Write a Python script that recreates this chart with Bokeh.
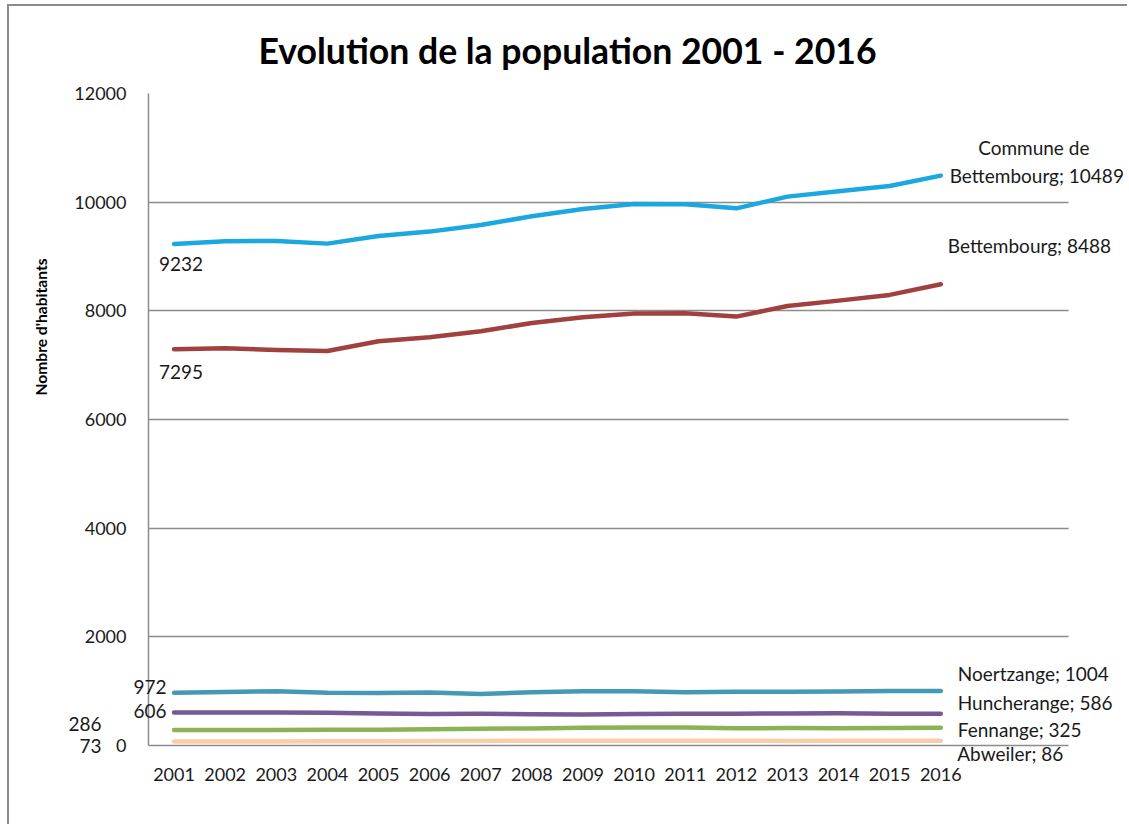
from bokeh.plotting import figure
from bokeh.models import (Range1d, FixedTicker, LabelSet, ColumnDataSource, Title,
                          BoxAnnotation)
from bokeh.core.properties import value
from bokeh.embed import file_html
from bokeh.resources import INLINE

try:
    from bokeh.models import HTMLLabelSet
except ImportError:
    HTMLLabelSet = None

# ---------------- data ----------------
years = list(range(2001, 2017))

commune = [9232, 9280, 9286, 9237, 9378, 9458, 9580, 9740, 9875, 9967, 9960, 9886, 10102, 10199, 10298, 10489]
bettembourg = [7295, 7311, 7281, 7262, 7440, 7513, 7623, 7777, 7881, 7949, 7955, 7894, 8090, 8188, 8293, 8488]
noertzange = [972, 985, 1000, 970, 965, 975, 950, 980, 1000, 1000, 980, 990, 990, 995, 1004, 1004]
huncherange = [606, 607, 608, 604, 590, 578, 585, 575, 570, 580, 585, 585, 590, 592, 585, 586]
fennange = [286, 285, 284, 288, 290, 300, 310, 315, 325, 330, 332, 318, 320, 318, 322, 325]
abweiler = [73, 74, 75, 78, 80, 82, 85, 87, 88, 88, 87, 86, 85, 86, 86, 86]

series_names = ["Commune de\nBettembourg", "Bettembourg", "Noertzange", "Huncherange", "Fennange", "Abweiler"]
series_values = [commune, bettembourg, noertzange, huncherange, fennange, abweiler]
series_colors = ["#1BA8E0", "#A0403F", "#4599B3", "#755A95", "#8DB254", "#F8CDAA"]

y_ticks = [0, 2000, 4000, 6000, 8000, 10000, 12000]
title_text = "Evolution de la population 2001 - 2016"
y_label = "Nombre d'habitants"

FONT = "Lato"
LABEL_SIZE = "19px"

# ---------------- layout (pixels) ----------------
W, H = 1120, 820                 # figure size (page offset 9, 6)
ML, MR, MT, MB = 137, 0, 87, 81  # borders around the frame
PX_YEAR = 51.22                  # horizontal pixels per category
frame_w = W - ML - MR
x0 = 2000.5
x1 = x0 + frame_w / PX_YEAR

p = figure(width=W, height=H, output_backend="svg", toolbar_location=None,
           x_range=Range1d(x0, x1), y_range=Range1d(0, 12000),
           min_border_left=ML, min_border_right=MR, min_border_top=MT, min_border_bottom=MB)
p.styles = {"margin-left": "7px", "margin-top": "4px",
            "border-left": "2px solid #8c8c8c", "border-top": "2px solid #8c8c8c"}

p.outline_line_color = None
p.background_fill_color = "white"
p.border_fill_color = "white"

p.xgrid.grid_line_color = None
p.ygrid.grid_line_color = "#8c8c8c"
p.ygrid.grid_line_width = 1.5
p.ygrid.ticker = FixedTicker(ticks=y_ticks)

# white mask so grid lines stop at the plot area (ends at 2018.5)
p.add_layout(BoxAnnotation(left=2018.5, fill_color="white", fill_alpha=1, line_color=None, level="underlay"))

p.yaxis.ticker = FixedTicker(ticks=y_ticks)
p.xaxis.ticker = FixedTicker(ticks=years)
p.xaxis.bounds = (2000.5, 2018.5)
for ax in (p.xaxis[0], p.yaxis[0]):
    ax.axis_line_color = "#8c8c8c"
    ax.axis_line_width = 1.5
    ax.major_tick_line_color = None
    ax.minor_tick_line_color = None
    ax.major_label_text_font = FONT
    ax.major_label_text_font_size = "18px"
    ax.major_label_text_color = "#1a1a1a"
p.xaxis.major_label_standoff = 16
p.yaxis.major_label_standoff = 16

# y axis title placed like the reference (left side, above centre)
p.add_layout(Title(text=y_label, align="left", offset=350, standoff=42, vertical_align="middle",
                   text_font=FONT, text_font_size="15.6px", text_font_style="bold",
                   text_color="#000000"), "left")

# main title
p.title.text = title_text
p.title.align = "left"
p.title.offset = 110
p.title.standoff = 42
p.title.vertical_align = "middle"
p.title.text_font = FONT
p.title.text_font_size = "35.6px"
p.title.text_font_style = "bold"
p.title.text_color = "#000000"

for vals, col in zip(series_values, series_colors):
    p.line(years, vals, line_color=col, line_width=4.5, line_cap="round", line_join="round")

Outer = HTMLLabelSet if HTMLLabelSet is not None else LabelSet


def add_labels(cls, xs, ys, texts, dxs, dys, aligns):
    src = ColumnDataSource(dict(x=xs, y=ys, t=texts, dx=dxs, dy=dys, al=aligns))
    p.add_layout(cls(x="x", y="y", text="t", source=src, x_offset="dx", y_offset="dy",
                     text_align="al", text_baseline="middle", text_font=value(FONT),
                     text_font_size=LABEL_SIZE, text_color="#1a1a1a"))


# data labels at start (2001): inside the plot area (SVG) and crossing its edge (HTML)
start_vals = [v[0] for v in series_values]
start_dx = [-15, -15, -7, -7, -72, -72]
start_dy = [-20, -23, 6, 2, 6.5, -4]
start_align = ["left", "left", "right", "right", "right", "right"]
inner = [0, 1]
outer = [2, 3, 4, 5]
add_labels(LabelSet, [years[0]] * len(inner), [start_vals[i] for i in inner],
           [str(start_vals[i]) for i in inner], [start_dx[i] for i in inner],
           [start_dy[i] for i in inner], [start_align[i] for i in inner])
add_labels(Outer, [years[0]] * len(outer), [start_vals[i] for i in outer],
           [str(start_vals[i]) for i in outer], [start_dx[i] for i in outer],
           [start_dy[i] for i in outer], [start_align[i] for i in outer])

# data labels at end (2016), "name; value"; multi-line names get one label per line
end_vals = [v[-1] for v in series_values]
end_dx = [[93, 96], 7, 17, 17, 17, 17]
end_dy = [[28, 0], 38.7, 17, 11, -2, -13]
end_align = ["center", "left", "left", "left", "left", "left"]
xs, ys, ts, dxs, dys, als = [], [], [], [], [], []
for i, (n, v) in enumerate(zip(series_names, end_vals)):
    if i == len(series_names) - 1:
        continue  # below the plot area: drawn as HTML
    lines = f"{n}; {v}".split("\n")
    ddx = end_dx[i] if isinstance(end_dx[i], list) else [end_dx[i]]
    ddy = end_dy[i] if isinstance(end_dy[i], list) else [end_dy[i]]
    for ln, a, b in zip(lines, ddx, ddy):
        xs.append(years[-1]); ys.append(v); ts.append(ln)
        dxs.append(a); dys.append(b); als.append(end_align[i])
add_labels(LabelSet, xs, ys, ts, dxs, dys, als)
k = len(series_names) - 1
add_labels(Outer, [years[-1]], [end_vals[k]], [f"{series_names[k]}; {end_vals[k]}"],
           [end_dx[k]], [end_dy[k]], [end_align[k]])

open("out.html", "w").write(file_html(p, INLINE))
